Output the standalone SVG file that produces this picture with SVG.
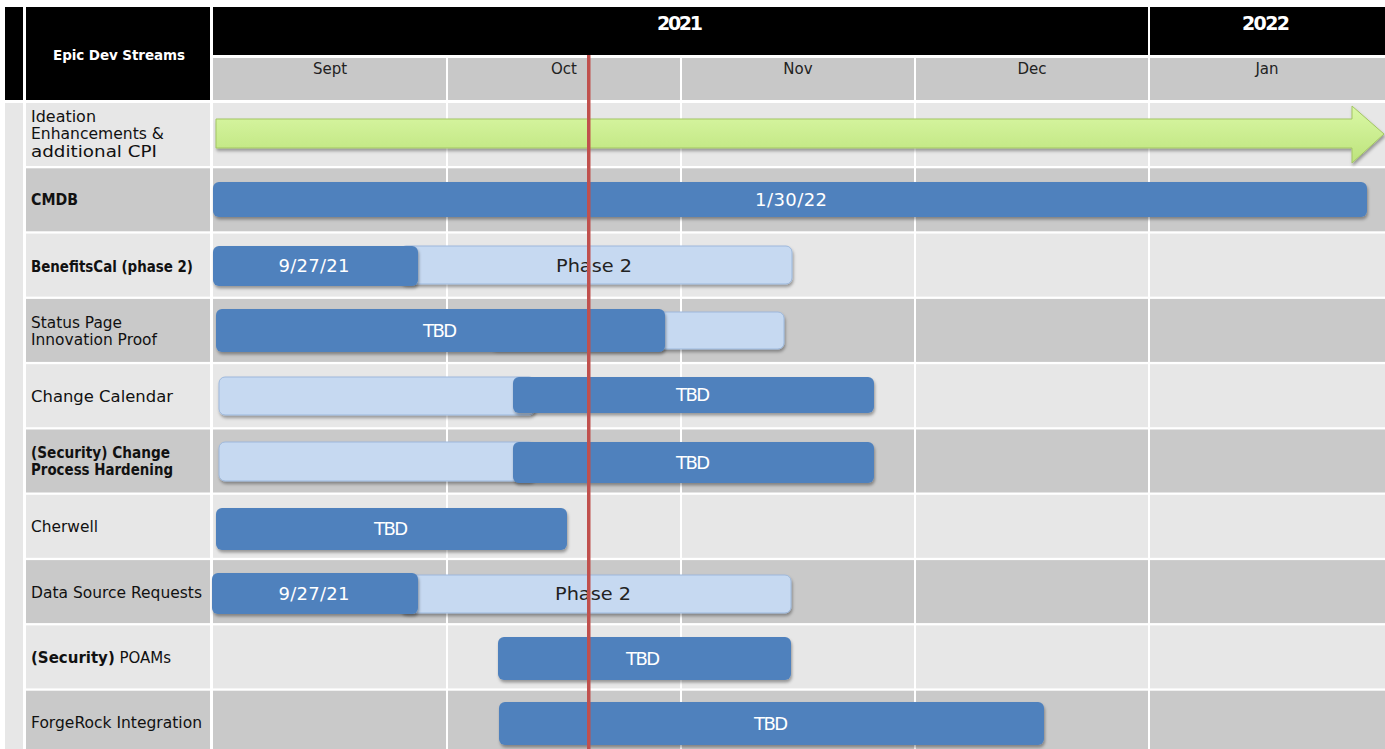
<svg xmlns="http://www.w3.org/2000/svg" width="1385" height="749" viewBox="0 0 1385 749">
<style>
.hdr{fill:#000}
.mon{fill:#c8c8c8}
.lt{fill:#e7e7e7}
.dk{fill:#c9c9c9}
.lbl{font-family:"DejaVu Sans",sans-serif;font-size:15px;fill:#111}
.b{font-weight:bold;font-size:15px}
.mtxt{font-family:"DejaVu Sans",sans-serif;font-size:15px;fill:#222;text-anchor:middle}
.ytxt{font-family:"DejaVu Sans",sans-serif;font-size:19px;font-weight:bold;fill:#fff;text-anchor:middle}
.ttl{font-family:"DejaVu Sans",sans-serif;font-size:13.5px;font-weight:bold;fill:#fff;text-anchor:middle}
.bar{fill:#4f81bd;filter:url(#sh)}
.lbar{fill:#c6d9f1;stroke:#9db8dc;stroke-width:1;filter:url(#sh)}
.btxt{font-family:"DejaVu Sans",sans-serif;font-size:18px;fill:#fff;text-anchor:middle}
.ptxt{font-family:"DejaVu Sans",sans-serif;font-size:18.5px;fill:#222;text-anchor:middle}
.vl{fill:#fff}
</style>
<defs>
<filter id="sh" x="-5%" y="-30%" width="110%" height="170%">
<feDropShadow dx="1" dy="2.5" stdDeviation="1.5" flood-color="#000" flood-opacity="0.35"/>
</filter>
<linearGradient id="gg" x1="0" y1="0" x2="0" y2="1">
<stop offset="0" stop-color="#daf8a6"/>
<stop offset="1" stop-color="#bde37c"/>
</linearGradient>
</defs>
<rect width="1385" height="749" fill="#fff"/>
<g id="header">
<rect class="hdr" x="5" y="7" width="18" height="93"/>
<rect class="hdr" x="26" y="7" width="184" height="93"/>
<text class="ttl" x="119" y="60" textLength="132">Epic Dev Streams</text>
<rect class="hdr" x="213" y="7" width="935" height="48"/>
<rect class="hdr" x="1150" y="7" width="235" height="48"/>
<text class="ytxt" x="680" y="30" textLength="46">2021</text>
<text class="ytxt" x="1266" y="30" textLength="48">2022</text>
<rect class="mon" x="213" y="58" width="1172" height="42"/>
<text class="mtxt" x="330" y="74">Sept</text>
<text class="mtxt" x="564" y="74">Oct</text>
<text class="mtxt" x="798" y="74">Nov</text>
<text class="mtxt" x="1032" y="74">Dec</text>
<text class="mtxt" x="1267" y="74">Jan</text>
</g>
<g id="grid">
<rect class="lt" x="5" y="103" width="18" height="646"/>
<rect class="lt" x="26" y="103" width="1359" height="63"/>
<rect class="dk" x="26" y="168.3" width="1359" height="63"/>
<rect class="lt" x="26" y="233.6" width="1359" height="63"/>
<rect class="dk" x="26" y="298.9" width="1359" height="63"/>
<rect class="lt" x="26" y="364.2" width="1359" height="63"/>
<rect class="dk" x="26" y="429.5" width="1359" height="63"/>
<rect class="lt" x="26" y="494.8" width="1359" height="63"/>
<rect class="dk" x="26" y="560.1" width="1359" height="63"/>
<rect class="lt" x="26" y="625.4" width="1359" height="63"/>
<rect class="dk" x="26" y="690.7" width="1359" height="59"/>
<rect class="vl" x="210" y="100" width="3" height="649"/>
<rect class="vl" x="446" y="56" width="2" height="693"/>
<rect class="vl" x="680" y="56" width="2" height="693"/>
<rect class="vl" x="914" y="56" width="2" height="693"/>
<rect class="vl" x="1148" y="7" width="2" height="742"/>
</g>
<g id="row-ideation">
<text class="lbl" x="31" y="122" textLength="65" lengthAdjust="spacingAndGlyphs">Ideation</text>
<text class="lbl" x="31" y="139" textLength="133" lengthAdjust="spacingAndGlyphs">Enhancements &amp;</text>
<text class="lbl" x="31" y="157" textLength="126" lengthAdjust="spacingAndGlyphs">additional CPI</text>
<polygon points="216,119 1352,119 1352,106 1384,134 1352,163 1352,148 216,148" fill="url(#gg)" stroke="#a3c563" stroke-width="1" filter="url(#sh)"/>
</g>
<g id="row-cmdb">
<text class="lbl b" x="31" y="205" textLength="47" lengthAdjust="spacingAndGlyphs">CMDB</text>
<rect class="bar" x="213" y="182" width="1154" height="35" rx="6"/>
<text class="btxt" x="791" y="206" textLength="72">1/30/22</text>
</g>
<g id="row-benefitscal">
<text class="lbl b" x="31" y="272" textLength="162" lengthAdjust="spacingAndGlyphs">BenefitsCal (phase 2)</text>
<rect class="lbar" x="400" y="246" width="392" height="38" rx="6"/>
<rect class="bar" x="213" y="246" width="205" height="40" rx="6"/>
<text class="btxt" x="314" y="272" textLength="71">9/27/21</text>
<text class="ptxt" x="594" y="272" textLength="76" lengthAdjust="spacingAndGlyphs">Phase 2</text>
</g>
<g id="row-statuspage">
<text class="lbl" x="31" y="328" textLength="91" lengthAdjust="spacingAndGlyphs">Status Page</text>
<text class="lbl" x="31" y="345" textLength="126" lengthAdjust="spacingAndGlyphs">Innovation Proof</text>
<rect class="lbar" x="490" y="312" width="294" height="37" rx="6"/>
<rect class="bar" x="216" y="309" width="449" height="43" rx="6"/>
<text class="btxt" x="440" y="337" textLength="34">TBD</text>
</g>
<g id="row-changecalendar">
<text class="lbl" x="31" y="402" textLength="142" lengthAdjust="spacingAndGlyphs">Change Calendar</text>
<rect class="lbar" x="219" y="377" width="316" height="38" rx="6"/>
<rect class="bar" x="513" y="377" width="361" height="36" rx="6"/>
<text class="btxt" x="693" y="401" textLength="34">TBD</text>
</g>
<g id="row-security-change">
<text class="lbl b" x="31" y="458" textLength="139" lengthAdjust="spacingAndGlyphs">(Security) Change</text>
<text class="lbl b" x="31" y="475" textLength="142" lengthAdjust="spacingAndGlyphs">Process Hardening</text>
<rect class="lbar" x="219" y="442" width="316" height="39" rx="6"/>
<rect class="bar" x="513" y="442" width="361" height="41" rx="6"/>
<text class="btxt" x="693" y="469" textLength="34">TBD</text>
</g>
<g id="row-cherwell">
<text class="lbl" x="31" y="532" textLength="67" lengthAdjust="spacingAndGlyphs">Cherwell</text>
<rect class="bar" x="216" y="508" width="351" height="42" rx="6"/>
<text class="btxt" x="391" y="535" textLength="34">TBD</text>
</g>
<g id="row-datasource">
<text class="lbl" x="31" y="598" textLength="171" lengthAdjust="spacingAndGlyphs">Data Source Requests</text>
<rect class="lbar" x="400" y="575" width="391" height="38" rx="6"/>
<rect class="bar" x="212" y="573" width="206" height="41" rx="6"/>
<text class="btxt" x="314" y="600" textLength="71">9/27/21</text>
<text class="ptxt" x="593" y="600" textLength="76" lengthAdjust="spacingAndGlyphs">Phase 2</text>
</g>
<g id="row-poams">
<text class="lbl" x="31" y="663"><tspan class="b">(Security)</tspan> POAMs</text>
<rect class="bar" x="498" y="637" width="293" height="43" rx="6"/>
<text class="btxt" x="643" y="665" textLength="34">TBD</text>
</g>
<g id="row-forgerock">
<text class="lbl" x="31" y="728" textLength="171" lengthAdjust="spacingAndGlyphs">ForgeRock Integration</text>
<rect class="bar" x="499" y="702" width="545" height="43" rx="6"/>
<text class="btxt" x="771" y="730" textLength="34">TBD</text>
</g>
<g id="connectors">
<rect id="today-line" x="587" y="55" width="3.5" height="694" fill="#c0504d"/>
</g>
</svg>
